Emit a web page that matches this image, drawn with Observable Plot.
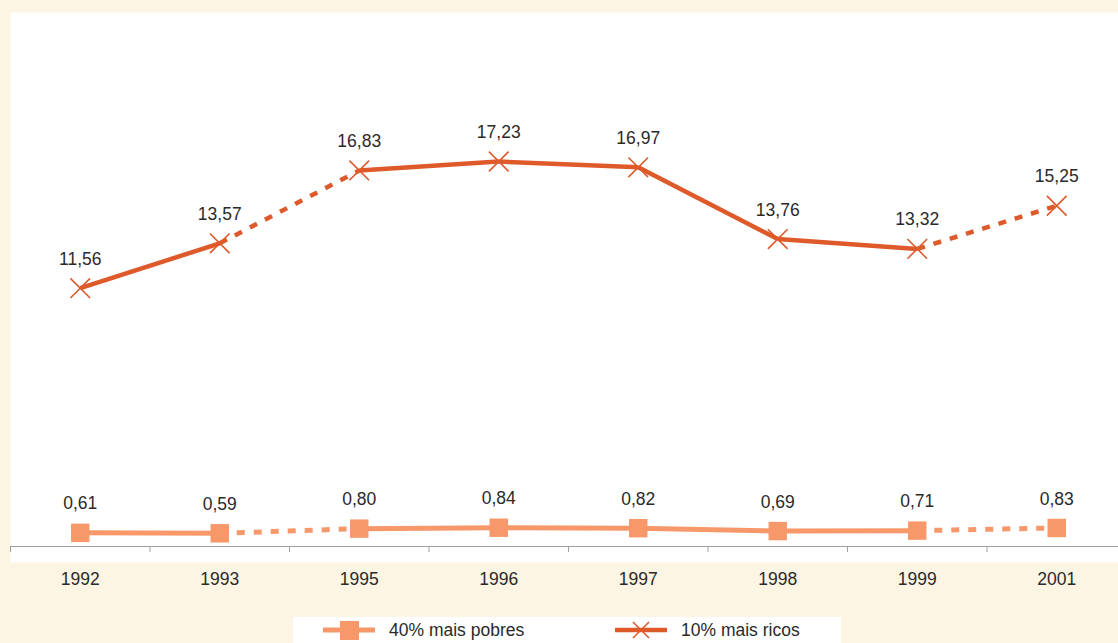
<!DOCTYPE html>
<html><head><meta charset="utf-8">
<script src="https://cdn.jsdelivr.net/npm/d3@7"></script>
<script src="https://cdn.jsdelivr.net/npm/@observablehq/plot@0.6"></script>
<style>
html,body{margin:0;padding:0;background:#fdf5e4;overflow:hidden;font-family:"Liberation Sans",Arial,sans-serif;}
#legend{position:absolute;left:293px;top:617px;width:548px;height:26px;background:#fff;font-size:17.5px;color:#2a2a2a;}
#legend .item{position:absolute;top:0;height:26px;display:flex;align-items:center;}
#legend svg{display:block;}
</style></head>
<body>
<div id="chart"></div>
<div id="legend"></div>
<script>
const years = ["1992","1993","1995","1996","1997","1998","1999","2001"];
const pobres = [0.61,0.59,0.80,0.84,0.82,0.69,0.71,0.83];
const ricos = [11.56,13.57,16.83,17.23,16.97,13.76,13.32,15.25];
const seriesNames = ["40% mais pobres","10% mais ricos"];
const colors = {"40% mais pobres":"#f7986b","10% mais ricos":"#de5a2b"};

const pts = [];
years.forEach((y,i)=>{
  pts.push({i, year:y, s:seriesNames[0], v:pobres[i]});
  pts.push({i, year:y, s:seriesNames[1], v:ricos[i]});
});
const segs = [];
for (const [name, vals] of [[seriesNames[0],pobres],[seriesNames[1],ricos]]) {
  for (let i=0;i<years.length-1;i++){
    segs.push({s:name, x1:i, x2:i+1, y1:vals[i], y2:vals[i+1], dashed:(+years[i+1]-+years[i])>1});
  }
}
const fmt = v => v.toFixed(2).replace(".",",");

const chart = Plot.plot({
  width:1118, height:615,
  marginLeft:10, marginRight:0, marginTop:12, marginBottom:69,
  style:{background:"#fdf5e4", fontFamily:"Liberation Sans, Arial, sans-serif"},
  x:{type:"linear", domain:[-0.5,7.5], range:[10,1126], axis:null},
  y:{domain:[0,23.9], axis:null},
  marks:[
    Plot.frame({fill:"white", stroke:null, insetBottom:-16}),
    Plot.ruleY([0],{stroke:"#a0a0a0", strokeWidth:1}),
    Plot.axisX({ticks:d3.range(-0.5,7,1), tickFormat:()=>"", tickSize:6, stroke:"#a0a0a0"}),
    Plot.axisX({ticks:d3.range(0,8), tickFormat:i=>years[i], tickSize:0, tickPadding:26, fontSize:17.5, fill:"#2a2a2a"}),
    Plot.link(segs.filter(d=>!d.dashed && d.s===seriesNames[0]),{x1:"x1",x2:"x2",y1:"y1",y2:"y2",stroke:colors[seriesNames[0]],strokeWidth:5}),
    Plot.link(segs.filter(d=>d.dashed && d.s===seriesNames[0]),{x1:"x1",x2:"x2",y1:"y1",y2:"y2",stroke:colors[seriesNames[0]],strokeWidth:5,strokeDasharray:"8,9"}),
    Plot.link(segs.filter(d=>!d.dashed && d.s===seriesNames[1]),{x1:"x1",x2:"x2",y1:"y1",y2:"y2",stroke:colors[seriesNames[1]],strokeWidth:4.5}),
    Plot.link(segs.filter(d=>d.dashed && d.s===seriesNames[1]),{x1:"x1",x2:"x2",y1:"y1",y2:"y2",stroke:colors[seriesNames[1]],strokeWidth:4.5,strokeDasharray:"8,9"}),
    Plot.dot(pts.filter(d=>d.s===seriesNames[0]),{x:"i",y:"v",symbol:"square",r:10.4,fill:colors[seriesNames[0]],stroke:null}),
    Plot.dot(pts.filter(d=>d.s===seriesNames[1]),{x:"i",y:"v",symbol:"times",r:9,stroke:colors[seriesNames[1]],strokeWidth:1.6}),
    Plot.text(pts,{x:"i",y:"v",text:d=>fmt(d.v),dy:-29,fontSize:17.5,fill:"#2a2a2a"})
  ]
});
document.getElementById("chart").appendChild(chart);

const legend = document.getElementById("legend");
legend.innerHTML = `
<div class="item" style="left:30px">
  <svg width="52" height="22"><line x1="0" y1="11" x2="52" y2="11" stroke="${colors[seriesNames[0]]}" stroke-width="5"/><rect x="17" y="2" width="19" height="19" fill="${colors[seriesNames[0]]}"/></svg>
  <span style="margin-left:14px">${seriesNames[0]}</span>
</div>
<div class="item" style="left:322px">
  <svg width="52" height="22"><line x1="0" y1="11" x2="52" y2="11" stroke="${colors[seriesNames[1]]}" stroke-width="4.5"/><path d="M18,3L34,19M34,3L18,19" stroke="${colors[seriesNames[1]]}" stroke-width="1.6"/></svg>
  <span style="margin-left:14px">${seriesNames[1]}</span>
</div>`;
</script>
</body></html>
